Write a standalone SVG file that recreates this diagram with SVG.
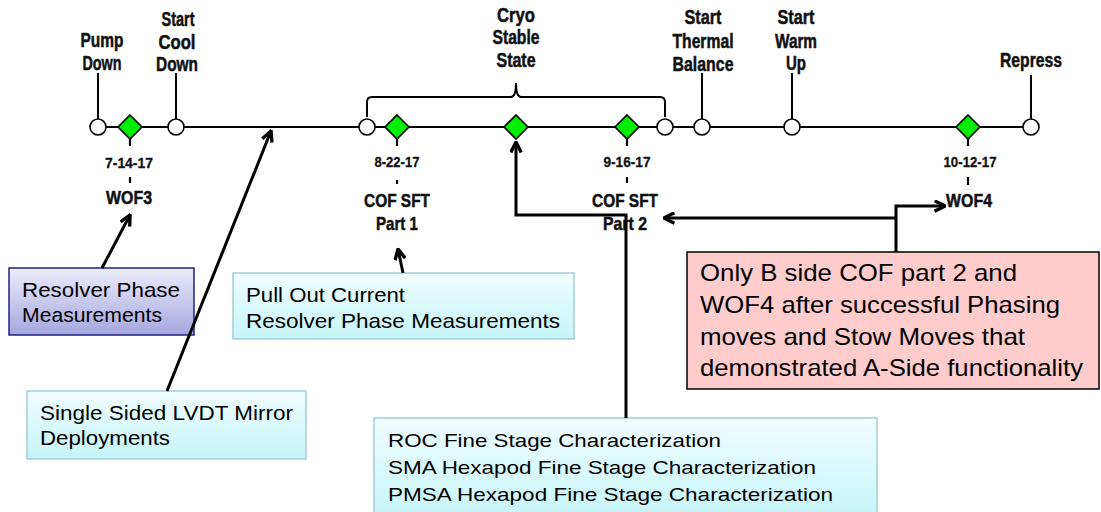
<svg xmlns="http://www.w3.org/2000/svg" width="1101" height="512" viewBox="0 0 1101 512">
<defs>
<linearGradient id="gLav" x1="0" y1="0" x2="0" y2="1"><stop offset="0" stop-color="#ececfb"/><stop offset="1" stop-color="#a6a6df"/></linearGradient>
<linearGradient id="gCyan" x1="0" y1="0" x2="0" y2="1"><stop offset="0" stop-color="#f0fdfe"/><stop offset="1" stop-color="#c6f5fa"/></linearGradient>
<marker id="arr" viewBox="0 0 10 10" refX="9" refY="5" markerWidth="13" markerHeight="13" markerUnits="userSpaceOnUse" orient="auto"><path d="M1,1 L9,5 L1,9" fill="none" stroke="#000" stroke-width="2.6"/></marker>
</defs>
<style>
.lbl{font-family:"Liberation Sans",Arial,sans-serif;font-weight:bold;font-size:20px;fill:#111;stroke:#111;stroke-width:0.5;text-anchor:middle}
.dt{font-family:"Liberation Sans",Arial,sans-serif;font-weight:bold;font-size:15.5px;fill:#111;stroke:#111;stroke-width:0.3;text-anchor:middle}
.bx{font-family:"Liberation Sans",Arial,sans-serif;font-size:21px;fill:#000}
.circ{fill:#fff;stroke:#000;stroke-width:1.6}
.dia{fill:#00ee00;stroke:#000;stroke-width:1.6}
.ln{stroke:#000;stroke-width:2;fill:none}
.tk{stroke:#000;stroke-width:2.2}
.con{stroke:#000;stroke-width:3;fill:none}
</style>

<g id="timeline">
<line class="ln" x1="98" y1="127" x2="1031" y2="127"/>
<path class="ln" d="M367,117 V102 Q367,97 372,97 H511 Q516,97 516,83 Q516,97 521,97 H660 Q665,97 665,102 V117"/>
</g>

<g id="pump-down">
<line class="ln" x1="98" y1="73" x2="98" y2="119"/>
<circle class="circ" cx="98" cy="127" r="8"/>
<text class="lbl" x="102" y="47" textLength="43" lengthAdjust="spacingAndGlyphs">Pump</text>
<text class="lbl" x="102" y="70" textLength="39" lengthAdjust="spacingAndGlyphs">Down</text>
</g>

<g id="wof3">
<polygon class="dia" points="130,115 142,127 130,139 118,127"/>
<line class="tk" x1="130" y1="139" x2="130" y2="146"/>
<text class="dt" x="129" y="168" textLength="48" lengthAdjust="spacingAndGlyphs">7-14-17</text>
<line class="tk" x1="130" y1="177" x2="130" y2="183"/>
<text class="lbl" x="129" y="204" style="font-size:18px" textLength="46" lengthAdjust="spacingAndGlyphs">WOF3</text>
</g>

<g id="start-cool-down">
<line class="ln" x1="176" y1="73" x2="176" y2="119"/>
<circle class="circ" cx="176" cy="127" r="8"/>
<text class="lbl" x="178" y="26" textLength="33" lengthAdjust="spacingAndGlyphs">Start</text>
<text class="lbl" x="177" y="49" textLength="37" lengthAdjust="spacingAndGlyphs">Cool</text>
<text class="lbl" x="177" y="71" textLength="42" lengthAdjust="spacingAndGlyphs">Down</text>
</g>

<g id="cryo-start">
<circle class="circ" cx="367" cy="127" r="8"/>
</g>

<g id="cof-sft-part1">
<polygon class="dia" points="397,115 409,127 397,139 385,127"/>
<line class="tk" x1="397" y1="139" x2="397" y2="146"/>
<text class="dt" x="397" y="167" textLength="45" lengthAdjust="spacingAndGlyphs">8-22-17</text>
<line class="tk" x1="397" y1="180" x2="397" y2="184"/>
<text class="lbl" x="397" y="207" style="font-size:19px" textLength="66" lengthAdjust="spacingAndGlyphs">COF SFT</text>
<text class="lbl" x="397" y="230" style="font-size:19px" textLength="42" lengthAdjust="spacingAndGlyphs">Part 1</text>
</g>

<g id="cryo-stable-state">
<polygon class="dia" points="516,115 528,127 516,139 504,127"/>
<text class="lbl" x="516" y="22" textLength="38" lengthAdjust="spacingAndGlyphs">Cryo</text>
<text class="lbl" x="516" y="44" textLength="47" lengthAdjust="spacingAndGlyphs">Stable</text>
<text class="lbl" x="516" y="67" textLength="39" lengthAdjust="spacingAndGlyphs">State</text>
</g>

<g id="cof-sft-part2">
<polygon class="dia" points="627,115 639,127 627,139 615,127"/>
<line class="tk" x1="627" y1="139" x2="627" y2="146"/>
<text class="dt" x="627" y="167" textLength="47" lengthAdjust="spacingAndGlyphs">9-16-17</text>
<line class="tk" x1="627" y1="177" x2="627" y2="183"/>
<text class="lbl" x="625" y="207" style="font-size:19px" textLength="66" lengthAdjust="spacingAndGlyphs">COF SFT</text>
<text class="lbl" x="625" y="230" style="font-size:19px" textLength="44" lengthAdjust="spacingAndGlyphs">Part 2</text>
</g>

<g id="cryo-end">
<circle class="circ" cx="665" cy="127" r="8"/>
</g>

<g id="start-thermal-balance">
<line class="ln" x1="702" y1="73" x2="702" y2="119"/>
<circle class="circ" cx="702" cy="127" r="8"/>
<text class="lbl" x="703" y="24" textLength="37" lengthAdjust="spacingAndGlyphs">Start</text>
<text class="lbl" x="703" y="48" textLength="61" lengthAdjust="spacingAndGlyphs">Thermal</text>
<text class="lbl" x="703" y="71" textLength="61" lengthAdjust="spacingAndGlyphs">Balance</text>
</g>

<g id="start-warm-up">
<line class="ln" x1="792" y1="73" x2="792" y2="119"/>
<circle class="circ" cx="792" cy="127" r="8"/>
<text class="lbl" x="796" y="24" textLength="37" lengthAdjust="spacingAndGlyphs">Start</text>
<text class="lbl" x="796" y="48" textLength="42" lengthAdjust="spacingAndGlyphs">Warm</text>
<text class="lbl" x="796" y="70" textLength="20" lengthAdjust="spacingAndGlyphs">Up</text>
</g>

<g id="wof4">
<polygon class="dia" points="968,115 980,127 968,139 956,127"/>
<line class="tk" x1="968" y1="139" x2="968" y2="146"/>
<text class="dt" x="970" y="167" textLength="53" lengthAdjust="spacingAndGlyphs">10-12-17</text>
<line class="tk" x1="968" y1="177" x2="968" y2="185"/>
<text class="lbl" x="969" y="207" style="font-size:18px" textLength="46" lengthAdjust="spacingAndGlyphs">WOF4</text>
</g>

<g id="repress">
<line class="ln" x1="1031" y1="75" x2="1031" y2="119"/>
<circle class="circ" cx="1031" cy="127" r="8"/>
<text class="lbl" x="1031" y="67" textLength="62" lengthAdjust="spacingAndGlyphs">Repress</text>
</g>

<g id="resolver-phase-box">
<rect x="9" y="268" width="185" height="67" fill="url(#gLav)" stroke="#22227a" stroke-width="1.5"/>
<text class="bx" x="22" y="297" textLength="158" lengthAdjust="spacingAndGlyphs">Resolver Phase</text>
<text class="bx" x="22" y="322" textLength="140" lengthAdjust="spacingAndGlyphs">Measurements</text>
</g>

<g id="pull-out-box">
<rect x="233" y="273" width="341" height="66" fill="url(#gCyan)" stroke="#a3d0d6" stroke-width="1.5"/>
<text class="bx" x="246" y="302" textLength="159" lengthAdjust="spacingAndGlyphs">Pull Out Current</text>
<text class="bx" x="246" y="328" textLength="314" lengthAdjust="spacingAndGlyphs">Resolver Phase Measurements</text>
</g>

<g id="single-sided-box">
<rect x="27" y="391" width="279" height="68" fill="url(#gCyan)" stroke="#a3d0d6" stroke-width="1.5"/>
<text class="bx" x="40" y="420" textLength="253" lengthAdjust="spacingAndGlyphs">Single Sided LVDT Mirror</text>
<text class="bx" x="40" y="445" textLength="130" lengthAdjust="spacingAndGlyphs">Deployments</text>
</g>

<g id="roc-box">
<rect x="374" y="418" width="503" height="100" fill="url(#gCyan)" stroke="#a3d0d6" stroke-width="1.5"/>
<text class="bx" x="388" y="447" style="font-size:19px" textLength="333" lengthAdjust="spacingAndGlyphs">ROC Fine Stage Characterization</text>
<text class="bx" x="388" y="474" style="font-size:19px" textLength="428" lengthAdjust="spacingAndGlyphs">SMA Hexapod Fine Stage Characterization</text>
<text class="bx" x="388" y="501" style="font-size:19px" textLength="445" lengthAdjust="spacingAndGlyphs">PMSA Hexapod Fine Stage Characterization</text>
</g>

<g id="b-side-box">
<rect x="687" y="252" width="412" height="137" fill="#ffcccc" stroke="#000" stroke-width="1.5"/>
<text class="bx" x="700" y="281" style="font-size:24px" textLength="317" lengthAdjust="spacingAndGlyphs">Only B side COF part 2 and</text>
<text class="bx" x="700" y="313" style="font-size:24px" textLength="360" lengthAdjust="spacingAndGlyphs">WOF4 after successful Phasing</text>
<text class="bx" x="700" y="345" style="font-size:24px" textLength="325" lengthAdjust="spacingAndGlyphs">moves and Stow Moves that</text>
<text class="bx" x="700" y="376" style="font-size:24px" textLength="383" lengthAdjust="spacingAndGlyphs">demonstrated A-Side functionality</text>
</g>

<g id="connectors">
<path class="con" d="M102,268 L130,215" marker-end="url(#arr)"/>
<path class="con" d="M167,391 L271,131" marker-end="url(#arr)"/>
<path class="con" d="M403,273 L398,249" marker-end="url(#arr)"/>
<path class="con" d="M626,418 V215 H516 V142" marker-end="url(#arr)"/>
<path class="con" d="M896,252 V206 H945" marker-end="url(#arr)"/>
<path class="con" d="M896,218 H664" marker-end="url(#arr)"/>
</g>
</svg>
